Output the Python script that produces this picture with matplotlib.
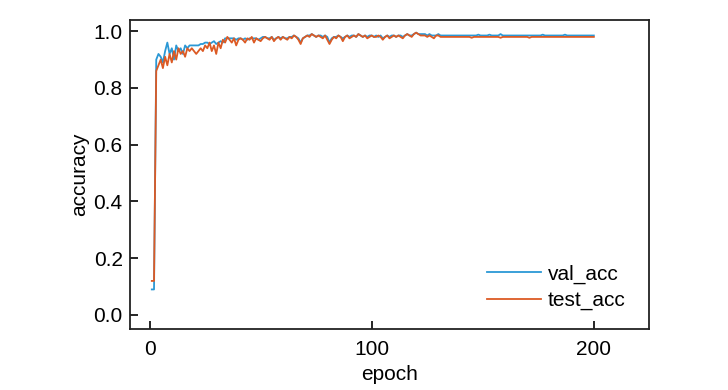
import matplotlib
matplotlib.use("Agg")
import matplotlib.pyplot as plt

plt.rcParams['font.family'] = ['Liberation Sans', 'DejaVu Sans']

epochs = list(range(1, 201))

val_acc = [
    0.09, 0.09, 0.90, 0.92, 0.91, 0.89, 0.93, 0.96, 0.92, 0.94,
    0.90, 0.95, 0.93, 0.94, 0.92, 0.95, 0.94, 0.95, 0.95, 0.95,
    0.95, 0.95, 0.955, 0.955, 0.96, 0.96, 0.955, 0.96, 0.965, 0.955,
    0.96, 0.965, 0.96, 0.975, 0.975, 0.975, 0.975, 0.975, 0.97, 0.975,
    0.975, 0.97, 0.975, 0.97, 0.975, 0.975, 0.975, 0.975, 0.97, 0.975,
    0.98, 0.98, 0.975, 0.975, 0.98, 0.97, 0.975, 0.98, 0.975, 0.98,
    0.975, 0.975, 0.98, 0.98, 0.985, 0.98, 0.975, 0.96, 0.975, 0.98,
    0.985, 0.985, 0.99, 0.985, 0.98, 0.985, 0.985, 0.98, 0.985, 0.98,
    0.96, 0.975, 0.98, 0.98, 0.985, 0.98, 0.975, 0.98, 0.985, 0.98,
    0.985, 0.985, 0.98, 0.99, 0.985, 0.98, 0.985, 0.98, 0.985, 0.985,
    0.98, 0.985, 0.98, 0.985, 0.975, 0.98, 0.985, 0.98, 0.985, 0.985,
    0.98, 0.985, 0.985, 0.98, 0.985, 0.99, 0.985, 0.985, 0.99, 0.995,
    0.99, 0.99, 0.99, 0.99, 0.985, 0.99, 0.985, 0.985, 0.985, 0.99,
    0.985, 0.985, 0.985, 0.985, 0.985, 0.985, 0.985, 0.985, 0.985, 0.985,
    0.985, 0.985, 0.985, 0.985, 0.985, 0.985, 0.985, 0.988, 0.985, 0.985,
    0.985, 0.985, 0.988, 0.985, 0.985, 0.985, 0.985, 0.99, 0.985, 0.985,
    0.985, 0.985, 0.985, 0.985, 0.985, 0.985, 0.985, 0.985, 0.985, 0.985,
    0.985, 0.985, 0.985, 0.985, 0.985, 0.985, 0.988, 0.985, 0.985, 0.985,
    0.985, 0.985, 0.985, 0.985, 0.985, 0.985, 0.988, 0.985, 0.985, 0.985,
    0.985, 0.985, 0.985, 0.985, 0.985, 0.985, 0.985, 0.985, 0.985, 0.985,
]

test_acc = [
    0.12, 0.12, 0.86, 0.88, 0.90, 0.87, 0.91, 0.88, 0.92, 0.89,
    0.93, 0.90, 0.94, 0.92, 0.93, 0.91, 0.94, 0.93, 0.94, 0.93,
    0.92, 0.93, 0.94, 0.93, 0.95, 0.94, 0.96, 0.93, 0.95, 0.92,
    0.96, 0.94, 0.97, 0.96, 0.98, 0.97, 0.96, 0.975, 0.95, 0.97,
    0.975, 0.97, 0.96, 0.975, 0.97, 0.98, 0.96, 0.975, 0.97, 0.965,
    0.975, 0.98, 0.975, 0.97, 0.98, 0.965, 0.975, 0.98, 0.97, 0.98,
    0.975, 0.97, 0.98, 0.975, 0.985, 0.98, 0.97, 0.955, 0.975, 0.98,
    0.985, 0.98, 0.99, 0.985, 0.98, 0.985, 0.98, 0.975, 0.985, 0.97,
    0.955, 0.97, 0.98, 0.975, 0.985, 0.98, 0.965, 0.98, 0.985, 0.975,
    0.98, 0.985, 0.98, 0.99, 0.985, 0.98, 0.985, 0.975, 0.98, 0.985,
    0.98, 0.98, 0.985, 0.98, 0.97, 0.98, 0.985, 0.975, 0.98, 0.985,
    0.98, 0.985, 0.98, 0.975, 0.985, 0.99, 0.985, 0.98, 0.99, 0.995,
    0.99, 0.985, 0.985, 0.985, 0.98, 0.985, 0.98, 0.975, 0.985, 0.985,
    0.98, 0.98, 0.98, 0.98, 0.98, 0.98, 0.98, 0.98, 0.98, 0.98,
    0.98, 0.98, 0.98, 0.98, 0.977, 0.98, 0.98, 0.98, 0.98, 0.98,
    0.98, 0.98, 0.98, 0.98, 0.98, 0.98, 0.98, 0.977, 0.98, 0.98,
    0.98, 0.98, 0.98, 0.98, 0.98, 0.98, 0.98, 0.98, 0.98, 0.98,
    0.977, 0.98, 0.98, 0.98, 0.98, 0.98, 0.98, 0.98, 0.98, 0.98,
    0.98, 0.98, 0.98, 0.98, 0.98, 0.98, 0.98, 0.98, 0.98, 0.98,
    0.98, 0.98, 0.98, 0.98, 0.98, 0.98, 0.98, 0.98, 0.98, 0.98,
]

fig = plt.figure(figsize=(7.28, 3.9), dpi=100)
ax = fig.add_axes([0.178, 0.156, 0.714, 0.793])

ax.plot(epochs, val_acc, color='#2b98d5', lw=1.3, label='val_acc')
ax.plot(epochs, test_acc, color='#dc5a24', lw=1.3, label='test_acc')

ax.set_xlim(-9, 225)
ax.set_ylim(-0.05, 1.04)
ax.set_xticks([0, 100, 200])
ax.set_yticks([0.0, 0.2, 0.4, 0.6, 0.8, 1.0])
ax.set_yticklabels(['0.0', '0.2', '0.4', '0.6', '0.8', '1.0'])
ax.tick_params(direction='in', length=6, width=1.2, labelsize=15)
ax.tick_params(axis='x', pad=8)
ax.tick_params(axis='y', pad=5)
for s in ax.spines.values():
    s.set_linewidth(1.3)
    s.set_color('#222222')

ax.set_xlabel('epoch', fontsize=15, labelpad=4)
ax.set_ylabel('accuracy', fontsize=15, labelpad=3)

ax.legend(loc='lower right', frameon=False, fontsize=15, handlelength=2.6,
          handletextpad=0.3, labelspacing=0.35, borderaxespad=0.5,
          bbox_to_anchor=(0.99, 0.0))

fig.savefig('out.png', dpi=100)
